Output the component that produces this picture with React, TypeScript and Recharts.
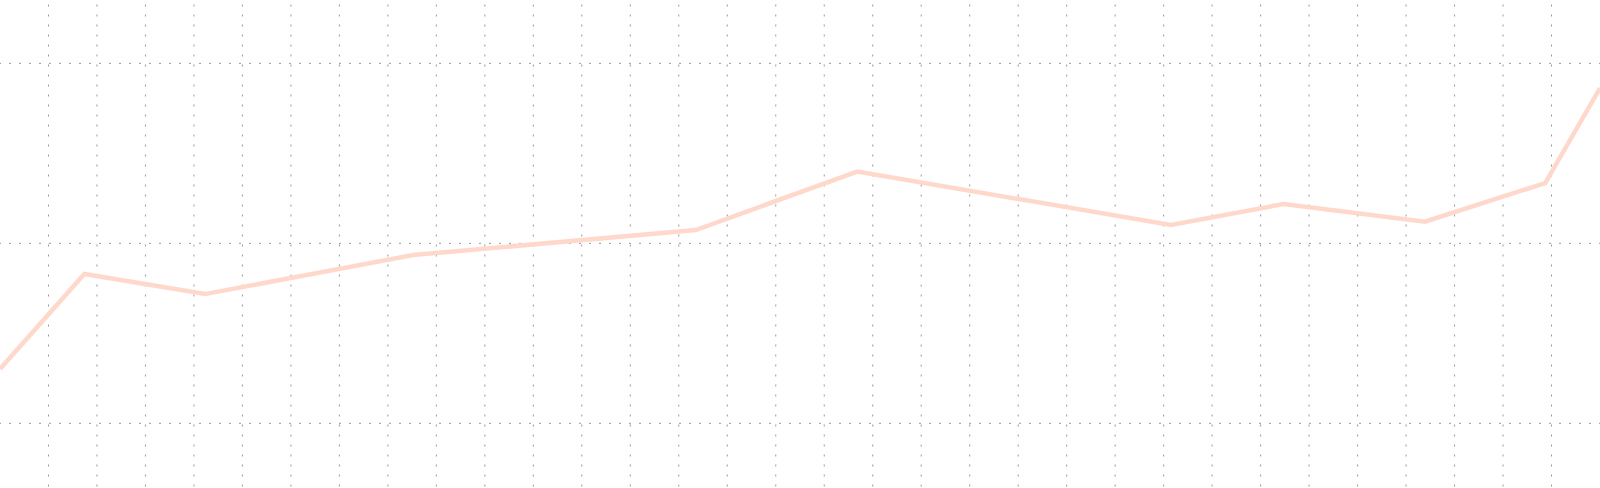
import React from 'react';
import { LineChart, Line, XAxis, YAxis, CartesianGrid } from 'recharts';

const xValues = [0, 1.74, 4.23, 8.52, 14.35, 17.68, 24.15, 26.47, 29.39, 31.87, 33];
const yValues = [130.2, 183, 171.8, 193.5, 207.4, 239.9, 210.2, 221.8, 212, 233.5, 286.3];
const xTicks = [1, 2, 3, 4, 5, 6, 7, 8, 9, 10, 11, 12, 13, 14, 15, 16, 17, 18, 19, 20, 21, 22, 23, 24, 25, 26, 27, 28, 29, 30, 31, 32];
const yTicks = [100, 200, 300];

const data = xValues.map((x, i) => ({ x, y: yValues[i] }));

const W = 1600;
const H = 488;

const verticalLine = (props: any) => {
  const { x1, y1, x2, y2, key } = props;
  if (x1 <= 1 || x1 >= W - 1) return <g key={key} />;
  return (
    <line
      key={key}
      x1={x1}
      y1={y1}
      x2={x2}
      y2={y2}
      stroke="#999"
      strokeDasharray="2 8"
      strokeDashoffset={-4.5}
      fill="none"
    />
  );
};

const horizontalLine = (props: any) => {
  const { x1, y1, x2, y2, key } = props;
  if (y1 <= 1 || y1 >= H - 1) return <g key={key} />;
  return (
    <line
      key={key}
      x1={x1}
      y1={y1}
      x2={x2}
      y2={y2}
      stroke="#999"
      strokeDasharray="2 8"
      strokeDashoffset={1}
      fill="none"
    />
  );
};

export default function App() {
  return (
    <div style={{ position: 'absolute', left: 0, top: 0, width: W, height: H }}>
      <LineChart width={W} height={H} data={data} margin={{ top: 0, right: 0, bottom: 0, left: 0 }}>
        <CartesianGrid stroke="#999" strokeDasharray="2 8" vertical={verticalLine} horizontal={horizontalLine} />
        <XAxis dataKey="x" type="number" domain={[0, 33]} ticks={xTicks} hide />
        <YAxis type="number" domain={[64.06, 335.2]} ticks={yTicks} hide />
        <Line
          type="linear"
          dataKey="y"
          stroke="#ffd8cc"
          strokeWidth={4.5}
          dot={false}
          activeDot={false}
          isAnimationActive={false}
        />
      </LineChart>
    </div>
  );
}
